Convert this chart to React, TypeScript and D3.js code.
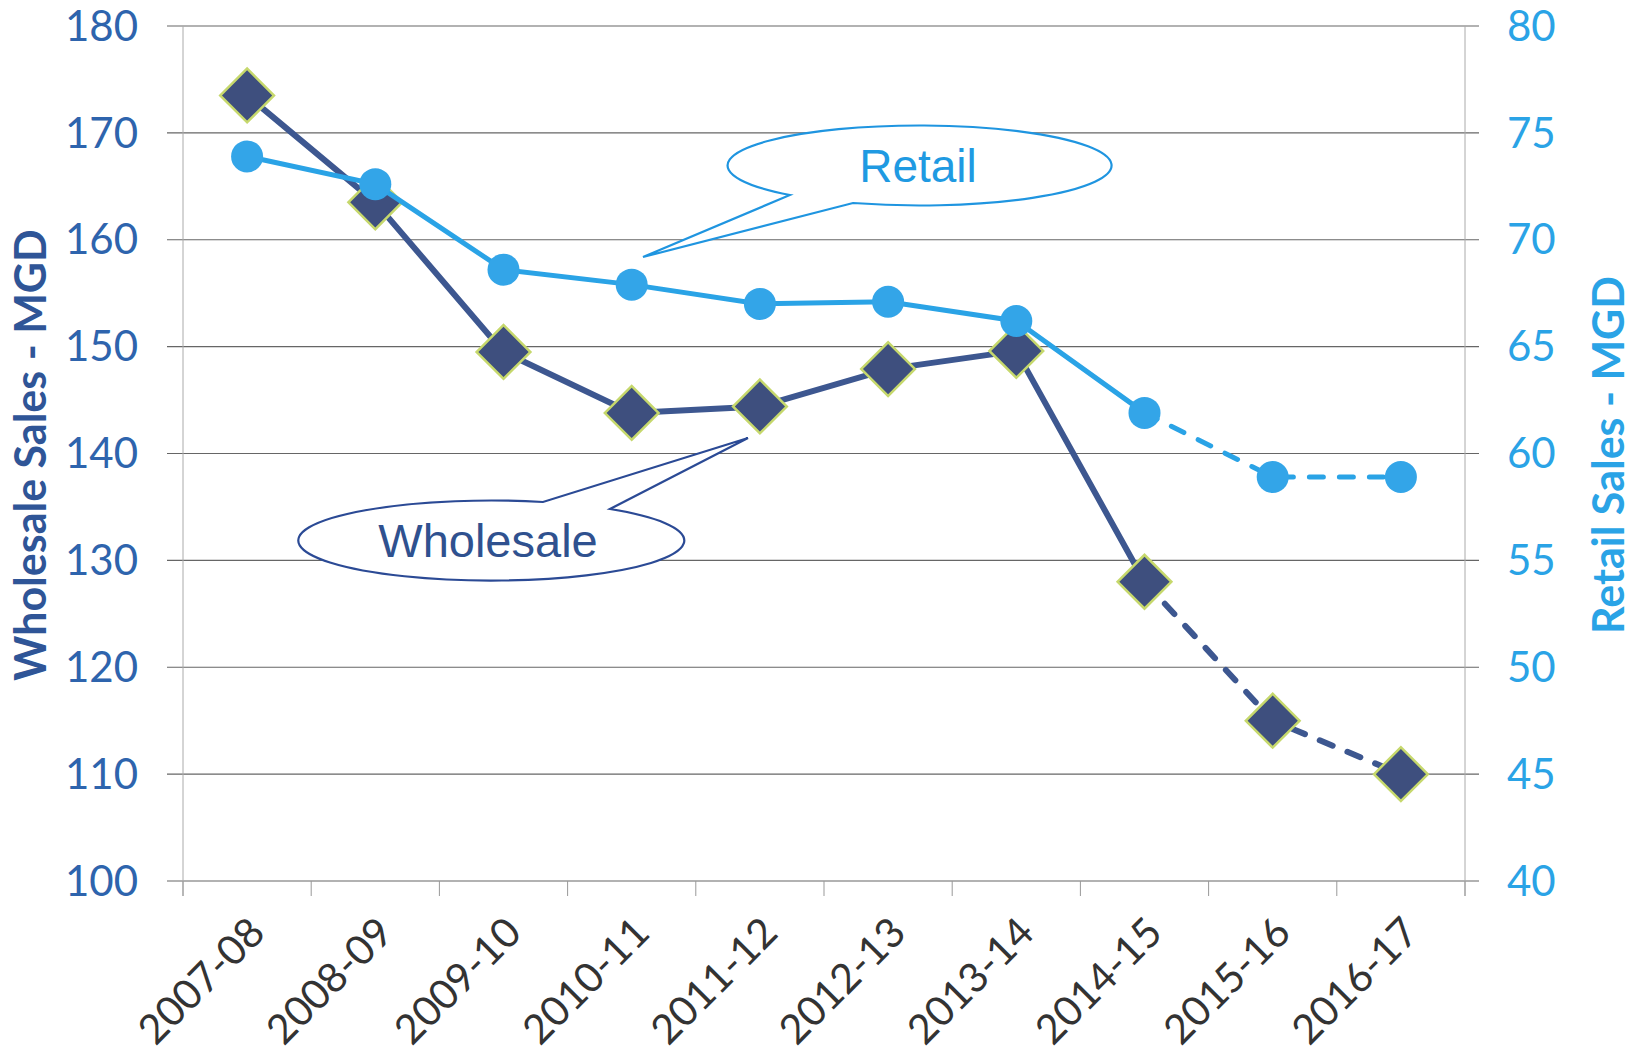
import { useEffect } from "react";
import * as d3 from "d3";

const categories = ["2007-08", "2008-09", "2009-10", "2010-11", "2011-12", "2012-13", "2013-14", "2014-15", "2015-16", "2016-17"];
const wholesale = [173.5, 163.5, 149.5, 143.8, 144.4, 147.9, 149.6, 128, 115, 110];
const retail = [73.9, 72.6, 68.6, 67.9, 67.0, 67.1, 66.2, 61.9, 58.9, 58.9];
const leftTicks = [100, 110, 120, 130, 140, 150, 160, 170, 180];
const rightTicks = [40, 45, 50, 55, 60, 65, 70, 75, 80];
const projectedFrom = 7; // 2014-15 onward is dashed

const W = 1640, H = 1060;
const plot = { left: 183, right: 1465, top: 26, bottom: 881 };

const NAVY = "#3d5790";
const NAVY_FILL = "#3e4f7e";
const SKY = "#2aa3e6";
const FONT = "Lato, 'Open Sans', sans-serif";

export default function App() {
  useEffect(() => {
    document.body.style.margin = "0";
  }, []);

  const x = d3.scaleBand<string>().domain(categories).range([plot.left, plot.right]);
  const cx = (c: string) => x(c)! + x.bandwidth() / 2;
  const yL = d3.scaleLinear().domain([100, 180]).range([plot.bottom, plot.top]);
  const yR = d3.scaleLinear().domain([40, 80]).range([plot.bottom, plot.top]);

  const line = d3.line<[number, number]>().x((d) => d[0]).y((d) => d[1]);

  const wPts: [number, number][] = wholesale.map((v, i) => [cx(categories[i]), yL(v)]);
  const rPts: [number, number][] = retail.map((v, i) => [cx(categories[i]), yR(v)]);

  const bounds = [...categories.map((c) => x(c)!), plot.right];

  // callout bubble: ellipse with a wedge pointing at tip
  const bubble = (rx: number, ry: number, p1: [number, number], p2: [number, number], tip: [number, number], sweep: number) =>
    `M${p1[0]},${p1[1]} A${rx},${ry} 0 1 ${sweep} ${p2[0]},${p2[1]} L${tip[0]},${tip[1]} Z`;

  return (
    <svg width={W} height={H} style={{ display: "block", background: "#fff" }}>
      {/* gridlines */}
      {leftTicks.map((t) => (
        <line key={t} x1={plot.left - 16} x2={plot.right + 14} y1={yL(t)} y2={yL(t)} stroke="#666" strokeWidth={1.2} />
      ))}
      {/* vertical axes */}
      <line x1={plot.left} x2={plot.left} y1={plot.top} y2={plot.bottom + 15} stroke="#aaa" strokeWidth={1} />
      <line x1={plot.right} x2={plot.right} y1={plot.top} y2={plot.bottom + 15} stroke="#aaa" strokeWidth={1} />
      {/* x ticks */}
      {bounds.map((b, i) => (
        <line key={i} x1={b} x2={b} y1={plot.bottom} y2={plot.bottom + 15} stroke="#999" strokeWidth={1} />
      ))}

      {/* left tick labels */}
      {leftTicks.map((t) => (
        <text key={t} x={138} y={yL(t)} dy="0.35em" textAnchor="end" fontFamily={FONT} fontSize={42} fill="#2e64ad">
          {t}
        </text>
      ))}
      {/* right tick labels */}
      {rightTicks.map((t) => (
        <text key={t} x={1507} y={yR(t)} dy="0.35em" textAnchor="start" fontFamily={FONT} fontSize={42} fill={SKY}>
          {t}
        </text>
      ))}
      {/* x labels */}
      {categories.map((c) => (
        <text key={c} transform={`translate(${cx(c) + 20},${plot.bottom + 54}) rotate(-45)`} textAnchor="end" fontFamily={FONT} fontSize={41} fill="#333">
          {c}
        </text>
      ))}

      {/* axis titles */}
      <text transform={`translate(46,455) rotate(-90)`} textAnchor="middle" fontFamily={FONT} fontWeight="bold" fontSize={43} fill="#2f5597">
        Wholesale Sales - MGD
      </text>
      <text transform={`translate(1624,455) rotate(-90)`} textAnchor="middle" fontFamily={FONT} fontWeight="bold" fontSize={43} fill={SKY}>
        Retail Sales - MGD
      </text>

      {/* callouts */}
      <path d={bubble(192, 40, [790, 195], [853, 203], [643, 257], 1)} fill="#fff" stroke="#1f95e0" strokeWidth={2.2} />
      <text x={918} y={182} textAnchor="middle" fontFamily="'Liberation Sans', Arial, sans-serif" fontSize={46} fill="#1f9ae2">
        Retail
      </text>
      <path d={bubble(193, 40, [543, 502], [610, 509], [748, 438], 0)} fill="#fff" stroke="#2b4a95" strokeWidth={2.2} />
      <text x={488} y={557} textAnchor="middle" fontFamily="'Liberation Sans', Arial, sans-serif" fontSize={47} fill="#2f518f">
        Wholesale
      </text>

      {/* wholesale series */}
      <path d={line(wPts.slice(0, projectedFrom + 1))!} fill="none" stroke={NAVY} strokeWidth={6} />
      <path d={line(wPts.slice(projectedFrom))!} fill="none" stroke={NAVY} strokeWidth={6} strokeDasharray="14 16" strokeLinecap="round" />
      {wPts.map((p, i) => (
        <rect key={i} x={-19} y={-19} width={38} height={38} transform={`translate(${p[0]},${p[1]}) rotate(45)`} fill={NAVY_FILL} stroke="#c6d86c" strokeWidth={2.5} />
      ))}

      {/* retail series */}
      <path d={line(rPts.slice(0, projectedFrom + 1))!} fill="none" stroke={SKY} strokeWidth={5} />
      <path d={line(rPts.slice(projectedFrom))!} fill="none" stroke={SKY} strokeWidth={5} strokeDasharray="14 16" strokeLinecap="round" />
      {rPts.map((p, i) => (
        <circle key={i} cx={p[0]} cy={p[1]} r={16} fill="#33a5e8" />
      ))}
    </svg>
  );
}
